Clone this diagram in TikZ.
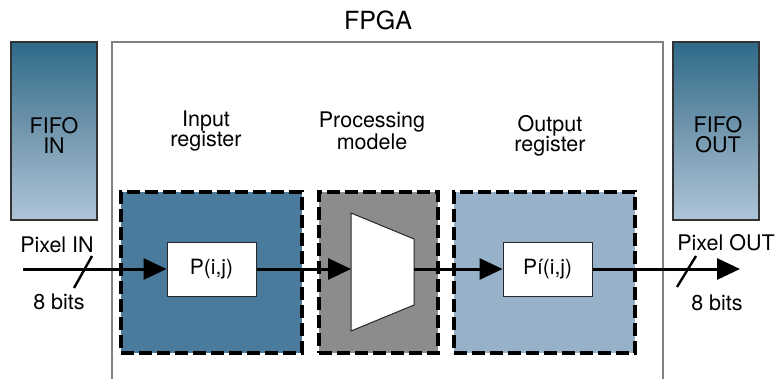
\documentclass[tikz,border=0pt]{standalone}
\usepackage{fontspec}
\setmainfont{TeX Gyre Heros}
\usetikzlibrary{arrows.meta}
\definecolor{fifotop}{HTML}{2E6A89}
\definecolor{fifomid}{HTML}{7397AE}
\definecolor{fifobot}{HTML}{AEC4D8}
\definecolor{inreg}{HTML}{4A7A9C}
\definecolor{procreg}{HTML}{8C8C8C}
\definecolor{outreg}{HTML}{97B1C8}
\definecolor{fpgaline}{HTML}{808080}
\tikzset{
  lbl/.style={font=\fontsize{21.5}{20}\selectfont, align=center, inner sep=0pt},
  fifo/.style={draw=black!80, line width=1.2pt, minimum width=86pt, minimum height=178pt,
    inner sep=0pt, top color=fifotop, bottom color=fifobot, middle color=fifomid},
  regbox/.style={draw=black, line width=3.2pt, dash pattern=on 13pt off 5pt,
    minimum width=181pt, minimum height=161pt, inner sep=0pt},
  cell/.style={draw=black!85, fill=white, line width=1pt, minimum width=89pt,
    minimum height=54pt, inner sep=0pt, font=\fontsize{21}{23}\selectfont},
  bus/.style={line width=3pt, -{Triangle[length=23pt, width=21pt]}},
  slash/.style={line width=2.4pt}
}
\begin{document}
\begin{tikzpicture}[x=1pt, y=-1pt]
\useasboundingbox (0,0) rectangle (777,378);
\fill[white] (0,0) rectangle (777,378);

% FPGA outline, open at the bottom
\draw[fpgaline, line width=1.4pt] (112,380) -- (112,42) -- (663,42) -- (663,380);
\node[lbl, font=\fontsize{25}{27}\selectfont] (fpga) at (378,20.5) {FPGA};

% FIFOs
\node[fifo] (fifoin) at (54,131) {};
\node[lbl] at (54,135) {FIFO\\IN};
\node[fifo] (fifoout) at (716,131) {};
\node[lbl] at (718,135) {FIFO\\OUT};

% Register stages
\node[regbox, fill=inreg] (inbox) at (211.5,272.5) {};
\node[regbox, fill=procreg, minimum width=119pt] (procbox) at (378.5,272.5) {};
\node[regbox, fill=outreg] (outbox) at (544.5,272.5) {};

\node[lbl] (inlbl) at (206,131) {Input\\register};
\node[lbl] (proclbl) at (372,131) {Processing\\modele};
\node[lbl] (outlbl) at (550,136) {Output\\register};

% Cells
\node[cell] (pin) at (211.5,269) {P(i,j)};
\node[cell] (pout) at (547.5,269) {Pí(i,j)};

% Processing element
\draw[black!85, fill=white, line width=1pt] (351,213) -- (414,239) -- (414,305) -- (351,331) -- cycle;
\coordinate (procin) at (351,269);
\coordinate (procout) at (414,269);

% Signal path
\coordinate (src) at (23,269);
\coordinate (dst) at (740,269);
\draw[bus] (src) -- (pin.west);
\draw[bus] (pin.east) -- (procin);
\draw[bus] (procout) -- (pout.west);
\draw[bus] (pout.east) -- (dst);

% Bus width marks
\draw[slash] (74,288) -- (92,256);
\draw[slash] (677,287) -- (696,256);
\node[lbl] (pinlbl) at (57,245) {Pixel IN};
\node[lbl] (inbits) at (59,302) {8 bits};
\node[lbl] (poutlbl) at (726,243) {Pixel OUT};
\node[lbl] (outbits) at (717,303) {8 bits};
\end{tikzpicture}
\end{document}
